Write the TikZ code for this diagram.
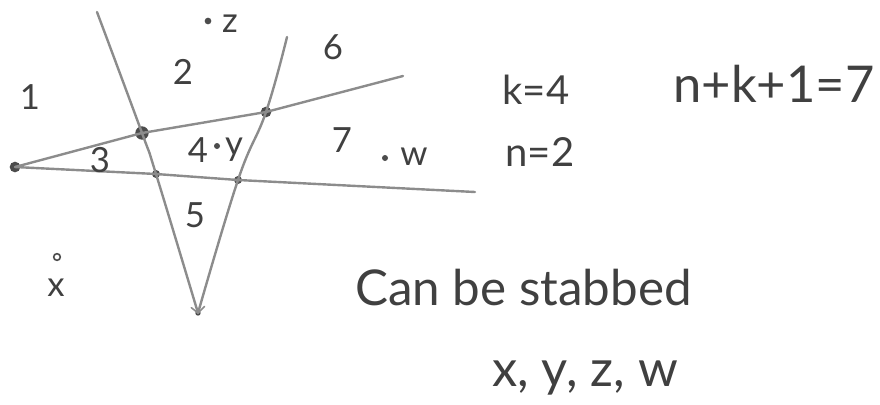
\documentclass[tikz,border=0pt]{standalone}
\usepackage{fontspec}
\setmainfont{Lato}
\begin{document}
\begin{tikzpicture}[x=0.75pt,y=-0.75pt,
  pencil/.style={draw=black!45,line width=1.8pt,line cap=round},
  lbl/.style={text=black!75,font=\fontsize{26}{30}\selectfont,inner sep=0pt},
  big/.style={text=black!75,font=\fontsize{30}{34}\selectfont,inner sep=0pt},
  pt/.style={circle,fill=black!70,inner sep=0pt,minimum size=#1},
  pt/.default=5pt]
\useasboundingbox (0,0) rectangle (880,404);
% line points
\coordinate (a0) at (97,12);
\coordinate (b0) at (287,37);
\coordinate (c1) at (403,76);
\coordinate (d1) at (475,192);
\node[pt=8pt] (L) at (15,167) {};
\node[pt=10pt] (p1) at (142,133) {};
\node[pt=8pt] (p2) at (266,112) {};
\node[pt=6pt] (p3) at (156,174) {};
\node[pt=6pt] (p4) at (238,180) {};
\node[pt=4pt] (V) at (198,313) {};
% lines
\draw[pencil] plot[smooth,tension=0.7] coordinates {(a0) (p1) (p3) (V)};
\draw[pencil] plot[smooth,tension=0.7] coordinates {(b0) (p2) (p4) (V)};
\draw[pencil] (L.center) -- (p1.center) -- (p2.center) -- (c1);
\draw[pencil] (L.center) -- (p3.center) -- (p4.center) -- (d1);
\draw[pencil,line width=1.2pt] ([xshift=-5pt,yshift=4pt]V.center) -- (V.center) -- ([xshift=5pt,yshift=5pt]V.center);
% region labels
\node[lbl] (r1) at (30,97) {1};
\node[lbl] (r2) at (183,72) {2};
\node[lbl] (r3) at (100,160) {3};
\node[lbl] (r4) at (198,150) {4};
\node[lbl] (r5) at (195,215) {5};
\node[lbl] (r6) at (333,47) {6};
\node[lbl] (r7) at (342,140) {7};
% points
\node[pt=5pt] (zd) at (208,21) {};
\node[lbl] (z) at (230,24) {z};
\node[pt=4.5pt] (yd) at (217,146) {};
\node[lbl] (y) at (234,150) {y};
\node[pt=4.5pt] (wd) at (385,158) {};
\node[lbl] (w) at (414,157) {w};
\node[circle,draw=black!70,line width=1.2pt,inner sep=0pt,minimum size=5pt] (xd) at (57,257) {};
\node[lbl] (x) at (56,288) {x};
% right side text
\node[big] (k) at (536,90) {k=4};
\node[big] (n) at (540,152) {n=2};
\node[big,font=\fontsize{38}{42}\selectfont] (eq) at (774,84) {n+k+1=7};
\node[big,font=\fontsize{37}{42}\selectfont,anchor=west] (cb) at (355,288) {Can be stabbed};
\node[big,font=\fontsize{38}{42}\selectfont,anchor=west] (xs) at (492,378) {x, y, z, w};
\end{tikzpicture}
\end{document}
